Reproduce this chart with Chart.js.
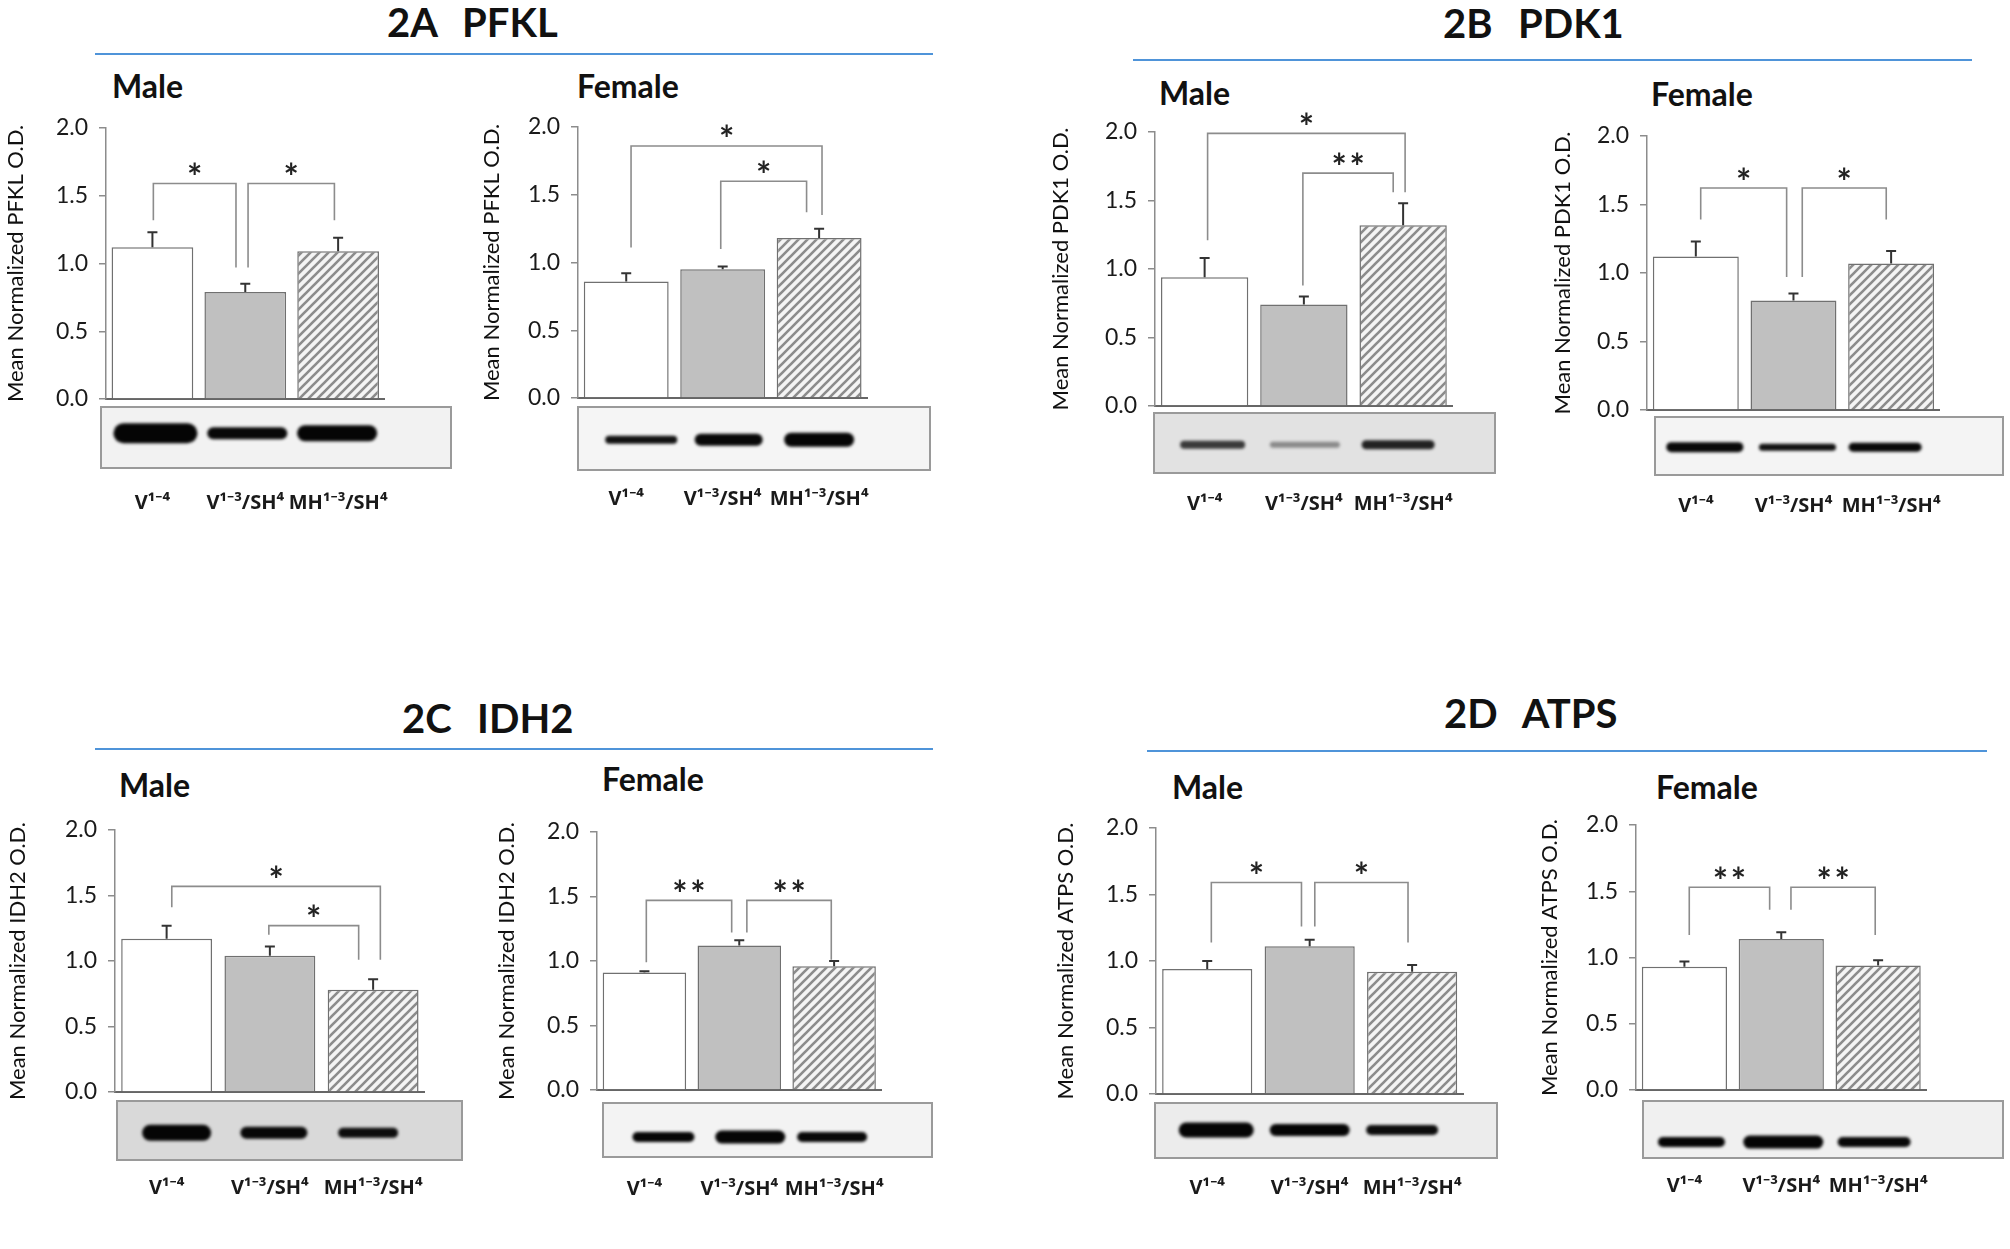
<!DOCTYPE html>
<html>
<head>
<meta charset="utf-8">
<script src="https://cdn.jsdelivr.net/npm/chart.js@4.4.0/dist/chart.umd.min.js"></script>
<style>
  body { margin: 0; background: #fff; }
  #page { position: relative; width: 2010px; height: 1249px; overflow: hidden; font-family: Lato, sans-serif; }
  #page canvas { position: absolute; }
  .head { position: absolute; font-weight: bold; font-size: 40px; line-height: 1; transform: translateY(-50%); color: #111; white-space: pre; word-spacing: 3px; }
  .sex { position: absolute; font-weight: bold; font-size: 32px; line-height: 1; transform: translateY(-50%); color: #111; }
  .rule { position: absolute; height: 2px; background: #4f94d9; }
</style>
</head>
<body>
<div id="page"></div>
<script>
// groups on the x axis, shared by every panel
const groups = ['V¹⁻⁴', 'V¹⁻³/SH⁴', 'MH¹⁻³/SH⁴'];
const yTicks = [0, 0.5, 1.0, 1.5, 2.0];

// mean normalized O.D. and error (upper bar only)
const pfklMale = [1.12, 0.79, 1.09];
const pfklMaleErr = [0.11, 0.06, 0.10];
const pfklFemale = [0.86, 0.95, 1.18];
const pfklFemaleErr = [0.06, 0.02, 0.07];
const pdk1Male = [0.94, 0.74, 1.32];
const pdk1MaleErr = [0.14, 0.06, 0.16];
const pdk1Female = [1.12, 0.80, 1.07];
const pdk1FemaleErr = [0.11, 0.05, 0.09];
const idh2Male = [1.17, 1.04, 0.78];
const idh2MaleErr = [0.10, 0.07, 0.08];
const idh2Female = [0.91, 1.12, 0.96];
const idh2FemaleErr = [0.01, 0.04, 0.04];
const atpsMale = [0.94, 1.11, 0.92];
const atpsMaleErr = [0.06, 0.05, 0.05];
const atpsFemale = [0.93, 1.14, 0.94];
const atpsFemaleErr = [0.04, 0.05, 0.04];

// significance brackets: [from group, to group, bracket height, left leg end, right leg end, stars]
const pfklMaleSig = [[0.01, 0.90, 1.59, 1.32, 0.97, 1], [1.03, 1.96, 1.59, 0.97, 1.32, 1]];
const pfklFemaleSig = [[0.05, 2.03, 1.86, 1.11, 1.35, 1], [0.98, 1.87, 1.60, 1.10, 1.37, 1]];
const pdk1MaleSig = [[0.03, 2.02, 1.99, 1.21, 1.56, 1], [0.99, 1.90, 1.70, 0.88, 1.56, 2]];
const pdk1FemaleSig = [[0.05, 0.93, 1.62, 1.39, 0.97, 1], [1.09, 1.95, 1.62, 0.97, 1.39, 1]];
const idh2MaleSig = [[0.05, 2.07, 1.57, 1.41, 1.01, 1], [0.99, 1.86, 1.27, 1.20, 1.01, 1]];
const idh2FemaleSig = [[0.02, 0.92, 1.47, 0.99, 1.22, 2], [1.08, 1.97, 1.47, 1.22, 1.01, 2]];
const atpsMaleSig = [[0.04, 0.92, 1.59, 1.14, 1.26, 1], [1.05, 1.96, 1.59, 1.26, 1.14, 1]];
const atpsFemaleSig = [[0.05, 0.88, 1.53, 1.17, 1.36, 2], [1.10, 1.97, 1.53, 1.36, 1.17, 2]];

const headings = [
  {text: '2A  PFKL', x: 387, y: 22, rule: [95, 53, 838]},
  {text: '2B  PDK1', x: 1443, y: 23, rule: [1133, 59, 839]},
  {text: '2C  IDH2', x: 402, y: 718, rule: [95, 748, 838]},
  {text: '2D  ATPS', x: 1444, y: 713, rule: [1147, 750, 840]}
];

// page layout of each panel (pixels) and the look of its blot strip
const panels = [
  {protein: 'PFKL', sex: 'Male', mean: pfklMale, err: pfklMaleErr, sig: pfklMaleSig,
   sexX: 112, sexY: 86, axisX: 106, yTop: 128, yBottom: 399, right: 434, titleX: 16, tickPad: 84,
   blot: [101, 407, 451, 468], bandPos: 0.43, blotBg: '#f2f2f2',
   bands: [[3, 20, 84, '#050505'], [2, 12, 80, '#080808'], [-1, 16, 80, '#050505']]},
  {protein: 'PFKL', sex: 'Female', mean: pfklFemale, err: pfklFemaleErr, sig: pfklFemaleSig,
   sexX: 577, sexY: 86, axisX: 578, yTop: 127, yBottom: 398, right: 912, titleX: 492, tickPad: 81,
   blot: [578, 407, 930, 470], bandPos: 0.52, blotBg: '#f5f5f5',
   bands: [[15, 8, 72, '#111'], [6, 12, 68, '#080808'], [0, 14, 70, '#050505']]},
  {protein: 'PDK1', sex: 'Male', mean: pdk1Male, err: pdk1MaleErr, sig: pdk1MaleSig,
   sexX: 1159, sexY: 93, axisX: 1155, yTop: 132, yBottom: 406, right: 1493, titleX: 1061, tickPad: 78,
   blot: [1154, 413, 1495, 473], bandPos: 0.53, blotBg: '#e2e2e2',
   bands: [[8, 8, 65, '#3a3a3a'], [1, 6, 70, '#8a8a8a'], [-5, 9, 73, '#222']]},
  {protein: 'PDK1', sex: 'Female', mean: pdk1Female, err: pdk1FemaleErr, sig: pdk1FemaleSig,
   sexX: 1651, sexY: 94, axisX: 1647, yTop: 136, yBottom: 410, right: 1979, titleX: 1563, tickPad: 76,
   blot: [1655, 417, 2003, 475], bandPos: 0.52, blotBg: '#f4f4f4',
   bands: [[9, 10, 77, '#080808'], [4, 7, 77, '#111'], [-6, 9, 73, '#080808']]},
  {protein: 'IDH2', sex: 'Male', mean: idh2Male, err: idh2MaleErr, sig: idh2MaleSig,
   sexX: 119, sexY: 785, axisX: 115, yTop: 830, yBottom: 1092, right: 461, titleX: 18, tickPad: 76,
   blot: [117, 1101, 462, 1160], bandPos: 0.54, blotBg: '#d9d9d9',
   bands: [[10, 16, 69, '#050505'], [4, 12, 67, '#080808'], [-5, 10, 60, '#0c0c0c']]},
  {protein: 'IDH2', sex: 'Female', mean: idh2Female, err: idh2FemaleErr, sig: idh2FemaleSig,
   sexX: 602, sexY: 779, axisX: 597, yTop: 832, yBottom: 1090, right: 925, titleX: 507, tickPad: 79,
   blot: [603, 1103, 932, 1157], bandPos: 0.63, blotBg: '#f3f3f3',
   bands: [[19, 10, 62, '#050505'], [11, 13, 70, '#050505'], [-2, 10, 70, '#080808']]},
  {protein: 'ATPS', sex: 'Male', mean: atpsMale, err: atpsMaleErr, sig: atpsMaleSig,
   sexX: 1172, sexY: 787, axisX: 1156, yTop: 828, yBottom: 1094, right: 1498, titleX: 1066, tickPad: 74,
   blot: [1155, 1103, 1497, 1158], bandPos: 0.49, blotBg: '#ececec',
   bands: [[9, 15, 75, '#050505'], [0, 12, 80, '#050505'], [-10, 10, 72, '#0c0c0c']]},
  {protein: 'ATPS', sex: 'Female', mean: atpsFemale, err: atpsFemaleErr, sig: atpsFemaleSig,
   sexX: 1656, sexY: 787, axisX: 1636, yTop: 825, yBottom: 1090, right: 1966, titleX: 1550, tickPad: 76,
   blot: [1643, 1101, 2003, 1158], bandPos: 0.72, blotBg: '#f0f0f0',
   bands: [[7, 10, 67, '#050505'], [2, 13, 80, '#050505'], [-4, 10, 73, '#080808']]}
];

Chart.defaults.color = '#222';
const page = document.getElementById('page');

headings.forEach(h => {
  const t = document.createElement('div');
  t.className = 'head';
  t.textContent = h.text;
  t.style.left = h.x + 'px';
  t.style.top = h.y + 'px';
  page.appendChild(t);
  const r = document.createElement('div');
  r.className = 'rule';
  r.style.left = h.rule[0] + 'px';
  r.style.top = h.rule[1] + 'px';
  r.style.width = h.rule[2] + 'px';
  page.appendChild(r);
});

function hatchPattern(ctx) {
  const tile = document.createElement('canvas');
  tile.width = 9; tile.height = 9;
  const g = tile.getContext('2d');
  g.fillStyle = '#f4f4f4';
  g.fillRect(0, 0, 9, 9);
  g.strokeStyle = '#8c8c8c';
  g.lineWidth = 2.6;
  g.beginPath();
  g.moveTo(-1, 10); g.lineTo(10, -1);
  g.moveTo(-1, 1); g.lineTo(1, -1);
  g.moveTo(8, 10); g.lineTo(10, 8);
  g.stroke();
  return ctx.createPattern(tile, 'repeat');
}

function extras(p, left, top) {
  return {
    id: 'extras',
    afterDraw(chart) {
      const ctx = chart.ctx;
      const meta = chart.getDatasetMeta(0);
      const xs = chart.scales.x, ys = chart.scales.y;

      // western blot strip under the axis
      const bx = p.blot[0] - left, by = p.blot[1] - top;
      const bw = p.blot[2] - p.blot[0], bh = p.blot[3] - p.blot[1];
      ctx.save();
      ctx.fillStyle = p.blotBg;
      ctx.fillRect(bx, by, bw, bh);
      ctx.strokeStyle = '#9a9a9a';
      ctx.lineWidth = 2;
      ctx.strokeRect(bx, by, bw, bh);
      ctx.filter = 'blur(1.5px)';
      p.bands.forEach((b, i) => {
        const cx = meta.data[i].x + b[0];
        const cy = by + bh * p.bandPos;
        ctx.fillStyle = b[3];
        ctx.beginPath();
        ctx.roundRect(cx - b[2] / 2, cy - b[1] / 2, b[2], b[1], b[1] / 2);
        ctx.fill();
      });
      ctx.restore();

      // error bars
      ctx.save();
      ctx.strokeStyle = '#333';
      ctx.lineWidth = 2;
      meta.data.forEach((bar, i) => {
        const y0 = ys.getPixelForValue(p.mean[i]);
        const y1 = ys.getPixelForValue(p.mean[i] + p.err[i]);
        ctx.beginPath();
        ctx.moveTo(bar.x, y0); ctx.lineTo(bar.x, y1);
        ctx.moveTo(bar.x - 5, y1); ctx.lineTo(bar.x + 5, y1);
        ctx.stroke();
      });
      ctx.restore();

      // significance brackets
      ctx.save();
      ctx.font = 'bold 36px Lato';
      ctx.fillStyle = '#222';
      ctx.textAlign = 'center';
      const m = ctx.measureText('*');
      const shift = (m.actualBoundingBoxAscent - m.actualBoundingBoxDescent) / 2;
      p.sig.forEach(s => {
        const x1 = xs.getPixelForValue(s[0]), x2 = xs.getPixelForValue(s[1]);
        const yb = ys.getPixelForValue(s[2]);
        ctx.strokeStyle = '#8c8c8c';
        ctx.lineWidth = 1.6;
        ctx.beginPath();
        ctx.moveTo(x1, ys.getPixelForValue(s[3]));
        ctx.lineTo(x1, yb);
        ctx.lineTo(x2, yb);
        ctx.lineTo(x2, ys.getPixelForValue(s[4]));
        ctx.stroke();
        const mid = (x1 + x2) / 2;
        for (let k = 0; k < s[5]; k++) {
          const sx = mid + (k - (s[5] - 1) / 2) * 18;
          ctx.fillText('*', sx, yb - 15 + shift);
        }
      });
      ctx.restore();
    }
  };
}

panels.forEach(p => {
  const s = document.createElement('div');
  s.className = 'sex';
  s.textContent = p.sex;
  s.style.left = p.sexX + 'px';
  s.style.top = p.sexY + 'px';
  page.appendChild(s);

  const pt = 50, pr = 45, hx = p.tickPad + 32;
  const left = Math.round(p.titleX - 17);
  const wy = p.axisX - left;
  const w = wy + (p.right - p.axisX) + pr;
  const h = pt + (p.yBottom - p.yTop) + hx;
  const top = p.yTop - pt;

  const cv = document.createElement('canvas');
  cv.width = w; cv.height = h;
  cv.style.left = left + 'px';
  cv.style.top = top + 'px';
  cv.style.width = w + 'px';
  cv.style.height = h + 'px';
  page.appendChild(cv);
  const ctx = cv.getContext('2d');

  new Chart(ctx, {
    type: 'bar',
    data: {
      labels: groups,
      datasets: [{
        data: p.mean,
        backgroundColor: ['#ffffff', '#c0c0c0', hatchPattern(ctx)],
        borderColor: '#707070',
        borderWidth: 1.5,
        barPercentage: 0.88,
        categoryPercentage: 1.0
      }]
    },
    options: {
      responsive: false,
      animation: false,
      events: [],
      layout: { padding: { top: pt, right: pr, left: 0, bottom: 0 } },
      plugins: { legend: { display: false }, tooltip: { enabled: false } },
      scales: {
        x: {
          z: 1,
          afterFit(sc) { sc.height = hx; },
          grid: { display: false },
          border: { color: '#666', width: 2 },
          ticks: {
            padding: p.tickPad,
            autoSkip: false,
            maxRotation: 0,
            color: '#1a1a1a',
            font: { family: 'Noto Sans', weight: 'bold', size: 20 }
          }
        },
        y: {
          min: 0,
          max: 2,
          afterFit(sc) { sc.width = wy; },
          afterBuildTicks(sc) { sc.ticks = yTicks.map(v => ({ value: v })); },
          ticks: {
            padding: 11,
            color: '#1a1a1a',
            font: { family: 'Lato', size: 23 },
            callback: v => Number(v).toFixed(1)
          },
          grid: { drawOnChartArea: false, drawTicks: true, tickLength: 7, color: '#8c8c8c', lineWidth: 1.5 },
          border: { color: '#8c8c8c', width: 1.5 },
          title: {
            display: true,
            text: 'Mean Normalized ' + p.protein + ' O.D.',
            color: '#111',
            font: { family: 'Lato', size: 22 },
            padding: { top: 4, bottom: 4 }
          }
        }
      }
    },
    plugins: [extras(p, left, top)]
  });
});
</script>
</body>
</html>
